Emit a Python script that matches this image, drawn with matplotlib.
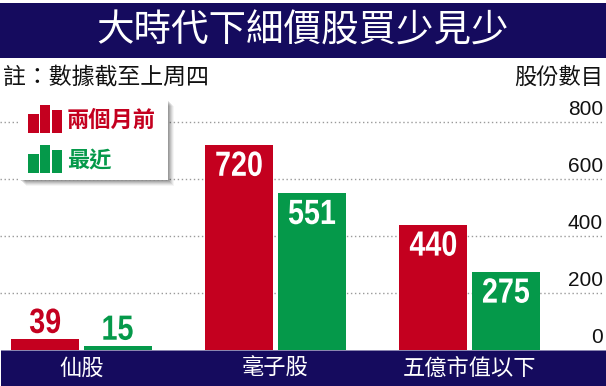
import matplotlib
matplotlib.use("Agg")
import matplotlib.pyplot as plt
from matplotlib.patches import Rectangle, PathPatch
from matplotlib.textpath import TextPath
from matplotlib.transforms import Affine2D, IdentityTransform
from matplotlib.font_manager import FontProperties
from matplotlib import font_manager

# ---- data ----
categories = ["仙股", "毫子股", "五億市值以下"]
two_months_ago = [39, 720, 440]
latest = [15, 551, 275]
y_ticks = [0, 200, 400, 600, 800]
series_names = ["兩個月前", "最近"]

title = "大時代下細價股買少見少"
note = "註：數據截至上周四"
unit_label = "股份數目"

RED = "#c4001f"
GREEN = "#05994a"
NAVY = "#150b5e"
GRID = "#9a9a9a"

CJK = ["Noto Sans CJK TC", "DejaVu Sans"]


def pick_font(candidates):
    for name in candidates:
        try:
            font_manager.findfont(font_manager.FontProperties(family=name),
                                  fallback_to_default=False)
            return name
        except Exception:
            continue
    return "DejaVu Sans"


TICK_FONT = pick_font(["Liberation Sans", "DejaVu Sans"])
NUM_PROP = FontProperties(family=TICK_FONT, weight="bold")

plt.rcParams["lines.scale_dashes"] = False

W, H = 606, 386
fig = plt.figure(figsize=(W / 100, H / 100), dpi=100)
fig.patch.set_facecolor("white")


def fx(x):
    return x / W


def fy(y):
    return 1 - y / H


def frect(x0, y0, x1, y1, **kw):
    r = Rectangle((fx(x0), fy(y1)), fx(x1) - fx(x0), fy(y0) - fy(y1),
                  transform=fig.transFigure, **kw)
    fig.add_artist(r)
    return r


# top and bottom banners
frect(0, 3, W, 58, facecolor=NAVY, edgecolor="none", zorder=0.5)
frect(1, 350, W, H, facecolor=NAVY, edgecolor="none", zorder=0.5)
frect(1, 349.5, W, 350.5, facecolor="#8a86b0", edgecolor="none", zorder=0.6)

fig.text(fx(303), fy(31), title, color="white", fontsize=27, family=CJK,
         ha="center", va="center", zorder=5)
fig.text(fx(3), fy(77), note, color="#111111", fontsize=16.5, family=CJK,
         ha="left", va="center", zorder=5)
fig.text(fx(603), fy(77), unit_label, color="#111111", fontsize=16, family=CJK,
         ha="right", va="center", zorder=5)

# ---- plot area ----
ax_bottom, ax_top = 350, 122
ax = fig.add_axes([0, fy(ax_bottom), 1, fy(ax_top) - fy(ax_bottom)])
ax.set_zorder(2)
ax.set_facecolor("none")
for s in ax.spines.values():
    s.set_visible(False)
ax.set_xticks([])
ax.set_yticks([])

spacing = 194.0
first_center = 81.5
ax.set_xlim(-first_center / spacing, (W - first_center) / spacing)
ax.set_ylim(0, 800)

# dotted gridlines with value labels above them
for t in y_ticks:
    if t > 0:
        ax.plot([-first_center / spacing, (604 - first_center) / spacing], [t, t],
                color=GRID, lw=1.0, linestyle=(0, (1.0, 1.9)), zorder=1,
                clip_on=False)
    ax.annotate(str(t), xy=(1, t), xycoords=("axes fraction", "data"),
                xytext=(-2.2, 2.5), textcoords="offset points",
                ha="right", va="bottom", fontsize=15, family=TICK_FONT,
                color="#111111", annotation_clip=False)


def condensed_label(x, v, text, color, dy_px, size_px=35, squeeze=0.82):
    """Draw a narrow bold number centred on (x, v), baseline shifted dy_px."""
    tp = TextPath((0, 0), text, size=size_px, prop=NUM_PROP)
    ext = tp.get_extents()
    cx = (ext.x0 + ext.x1) / 2
    px, py = ax.transData.transform((x, v))
    tr = Affine2D().translate(-cx, 0).scale(squeeze, 1).translate(px, py + dy_px)
    patch = PathPatch(tr.transform_path(tp), facecolor=color, edgecolor="none",
                      transform=IdentityTransform(), zorder=4)
    ax.add_artist(patch)


bar_w = 68 / spacing
off = 73 / spacing / 2
xs = list(range(len(categories)))

for series, color, sign in [(two_months_ago, RED, -1), (latest, GREEN, 1)]:
    pos = [x + sign * off for x in xs]
    ax.bar(pos, series, width=bar_w, color=color, edgecolor="none", zorder=3)
    for p, v in zip(pos, series):
        if v > 100:
            condensed_label(p, v, str(v), "white", -31)
        else:
            condensed_label(p, v, str(v), color, 6)

# category labels on the bottom banner
for x, c in zip(xs, categories):
    ax.annotate(c, xy=(x, 0), xytext=(0, -13.2), textcoords="offset points",
                ha="center", va="center", fontsize=16, family=CJK,
                color="white", annotation_clip=False, zorder=6)

# ---- legend box with soft shadow ----
for i, a in enumerate([0.10, 0.10, 0.09, 0.08, 0.06, 0.04]):
    d = i + 1
    frect(20 + d, 100 + d, 168 + d, 180 + d, facecolor="#000000",
          alpha=a, edgecolor="none", zorder=7)
frect(20, 100, 168, 180, facecolor="white", edgecolor="none", zorder=8)

for (ytop, color, name) in [(105, RED, series_names[0]),
                            (145, GREEN, series_names[1])]:
    base = ytop + 28
    for (x0, x1, hgt) in [(28, 39, 19), (40, 50, 28), (51.5, 62, 23)]:
        frect(x0, base - hgt, x1, base, facecolor=color, edgecolor="none",
              zorder=9)
    fig.text(fx(67), fy(ytop + 15), name, color=color, fontsize=16,
             fontweight="bold", family=CJK, ha="left", va="center", zorder=9)

fig.savefig("out.png", dpi=100, facecolor="white")
